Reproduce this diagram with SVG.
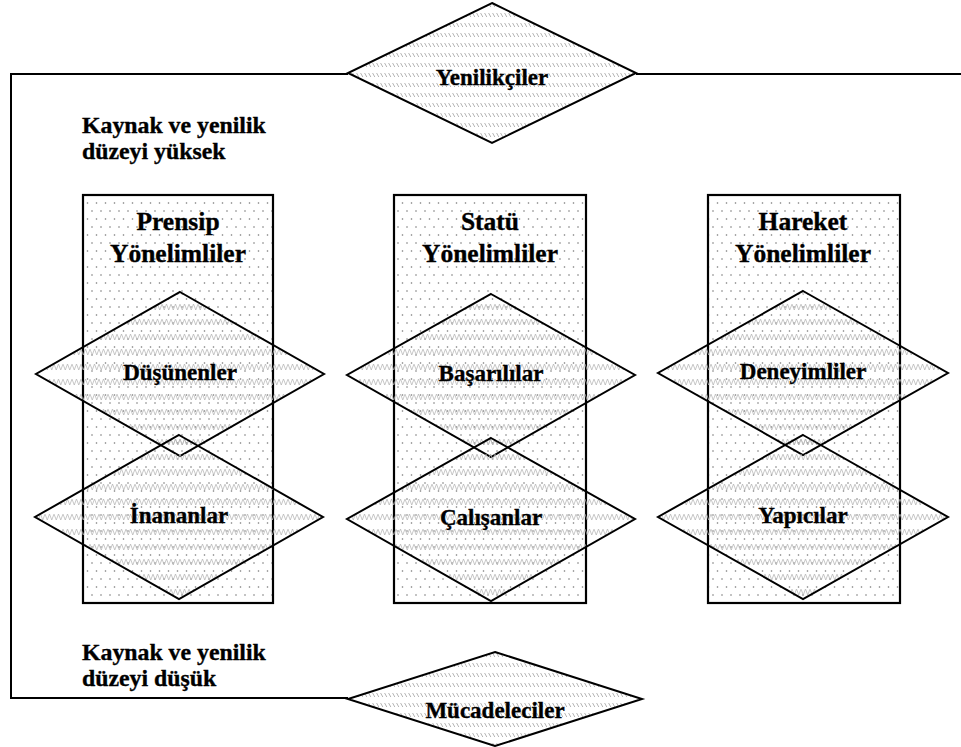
<svg xmlns="http://www.w3.org/2000/svg" width="961" height="747" viewBox="0 0 961 747">
<style>
.frame{stroke:#000;stroke-width:2;fill:none}
.col{fill:url(#dots);stroke:#000;stroke-width:2.2}
.dia{fill:url(#zig);stroke:#000;stroke-width:2}
.dia2{fill:url(#hatch);stroke:#000;stroke-width:2}
.t{font-family:"Liberation Serif","Times New Roman",serif;font-weight:bold;fill:#000;stroke:#000;stroke-width:0.35}
.lbl{font-size:23px;text-anchor:middle}
.hd{font-size:25.5px;text-anchor:middle}
.side{font-size:23.8px}
</style>
<defs>
<pattern id="dots" width="9" height="16" patternUnits="userSpaceOnUse">
<rect width="9" height="16" fill="#fff"/>
<circle cx="2" cy="3" r="0.8" fill="#777"/>
<circle cx="6.5" cy="11" r="0.8" fill="#777"/>
</pattern>
<pattern id="zig" width="9" height="15" patternUnits="userSpaceOnUse">
<path d="M0,4 L2.25,10 L4.5,4 L6.75,10 L9,4" fill="none" stroke="#b4b4b4" stroke-width="0.75"/>
</pattern>
<pattern id="hatch" width="4" height="10" patternUnits="userSpaceOnUse">
<rect width="4" height="10" fill="#fff"/>
<path d="M0.6,3 L2.8,7" fill="none" stroke="#a6a6a6" stroke-width="0.85"/>
</pattern>
</defs>
<g id="connectors">
<polyline class="frame" points="348,74 11,74 11,698 348,698"/>
<line class="frame" x1="636" y1="74" x2="961" y2="74"/>
</g>
<g id="label-high">
<text class="t side" x="82" y="133">Kaynak ve yenilik</text>
<text class="t side" x="82" y="159">düzeyi yüksek</text>
</g>
<g id="label-low">
<text class="t side" x="82" y="660">Kaynak ve yenilik</text>
<text class="t side" x="82" y="686">düzeyi düşük</text>
</g>
<g id="prensip">
<rect class="col" x="83" y="195" width="190" height="408"/>
<text class="t hd" x="178" y="230">Prensip</text>
<text class="t hd" x="178" y="262">Yönelimliler</text>
</g>
<g id="statu">
<rect class="col" x="394" y="195" width="192" height="408"/>
<text class="t hd" x="490" y="230">Statü</text>
<text class="t hd" x="490" y="262">Yönelimliler</text>
</g>
<g id="hareket">
<rect class="col" x="708" y="195" width="192" height="408"/>
<text class="t hd" x="803" y="230">Hareket</text>
<text class="t hd" x="803" y="262">Yönelimliler</text>
</g>
<g id="yenilikciler">
<polygon class="dia2" points="492,3 636,73 492,143 348,73"/>
<text class="t lbl" x="492" y="85">Yenilikçiler</text>
</g>
<g id="mucadeleciler">
<polygon class="dia2" points="495,652 642,699 495,746 348,699"/>
<text class="t lbl" x="495" y="718">Mücadeleciler</text>
</g>
<g id="dusunenler">
<polygon class="dia" points="180,292 324,374 180,456 36,374"/>
<text class="t lbl" x="180" y="380">Düşünenler</text>
</g>
<g id="inananlar">
<polygon class="dia" points="179,435 323,517 179,599 35,517"/>
<text class="t lbl" x="179" y="523">İnananlar</text>
</g>
<g id="basarililar">
<polygon class="dia" points="491,294 635,375 491,457 347,375"/>
<text class="t lbl" x="491" y="381">Başarılılar</text>
</g>
<g id="calisanlar">
<polygon class="dia" points="491,438 635,519 491,601 347,519"/>
<text class="t lbl" x="491" y="525">Çalışanlar</text>
</g>
<g id="deneyimliler">
<polygon class="dia" points="803,291 948,373 803,455 658,373"/>
<text class="t lbl" x="803" y="379">Deneyimliler</text>
</g>
<g id="yapicilar">
<polygon class="dia" points="803,435 948,517 803,599 658,517"/>
<text class="t lbl" x="803" y="523">Yapıcılar</text>
</g>
</svg>
